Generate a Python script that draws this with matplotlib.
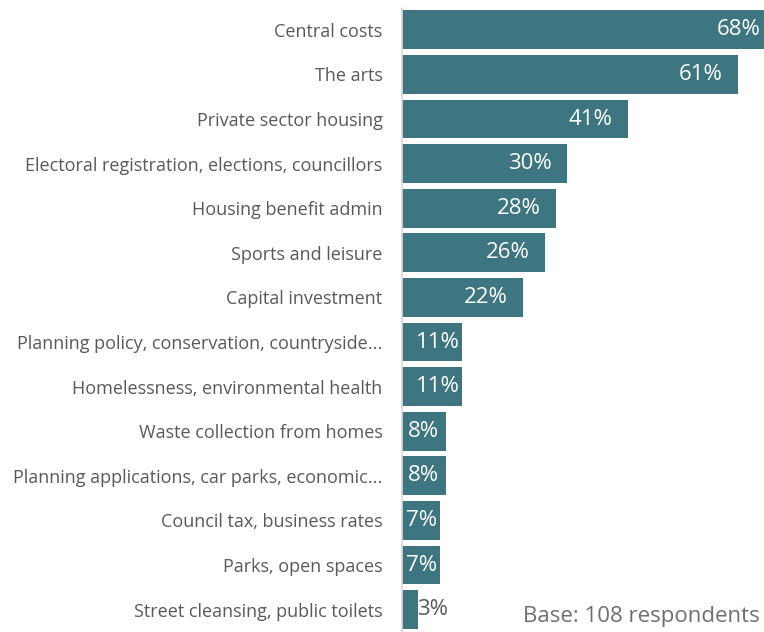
import matplotlib.pyplot as plt

# Share of respondents per service area
services = [
    "Central costs",
    "The arts",
    "Private sector housing",
    "Electoral registration, elections, councillors",
    "Housing benefit admin",
    "Sports and leisure",
    "Capital investment",
    "Planning policy, conservation, countryside...",
    "Homelessness, environmental health",
    "Waste collection from homes",
    "Planning applications, car parks, economic...",
    "Council tax, business rates",
    "Parks, open spaces",
    "Street cleansing, public toilets",
]
percent = [68, 61, 41, 30, 28, 26, 22, 11, 11, 8, 8, 7, 7, 3]

bar_color = "#3d7580"
text_gray = "#595959"

fig = plt.figure(figsize=(7.64, 6.32), dpi=100)
ax = fig.add_axes([0.526, 0.0, 0.474, 0.988])

ypos = list(range(len(services)))
ax.barh(ypos, percent, height=0.87, color=bar_color, clip_on=True)
ax.set_xlim(0, 65.8)
ax.set_ylim(len(services) - 0.5, -0.5)

for y, v in zip(ypos, percent):
    label = f"{v}%"
    if v >= 10:
        # inside end of the bar, tighter padding on shorter bars
        pad = -11 if v >= 20 else -2
        ax.annotate(label, (v, y), xytext=(pad, 0), textcoords="offset points",
                    ha="right", va="center", color="white", fontsize=16,
                    family="Open Sans", annotation_clip=False)
    elif v >= 5:
        # narrow bars: centre the label
        ax.text(v / 2, y, label, ha="center", va="center", color="white",
                fontsize=16, family="Open Sans")
    else:
        ax.annotate(label, (v, y), xytext=(-1, 0), textcoords="offset points",
                    ha="left", va="center", color=text_gray, fontsize=16,
                    family="Open Sans")

ax.set_yticks(ypos)
ax.set_yticklabels(services, fontsize=13, color=text_gray, family="Open Sans")
ax.tick_params(axis="y", length=0, pad=14)
ax.set_xticks([])

for side in ["top", "right", "bottom"]:
    ax.spines[side].set_visible(False)
ax.spines["left"].set_color("#d9d9d9")
ax.spines["left"].set_linewidth(1.2)

fig.text(0.995, 0.024, "Base: 108 respondents", ha="right", va="center",
         fontsize=16, color="#6f6f6f", family="Open Sans")

fig.savefig("out.png", dpi=100)
